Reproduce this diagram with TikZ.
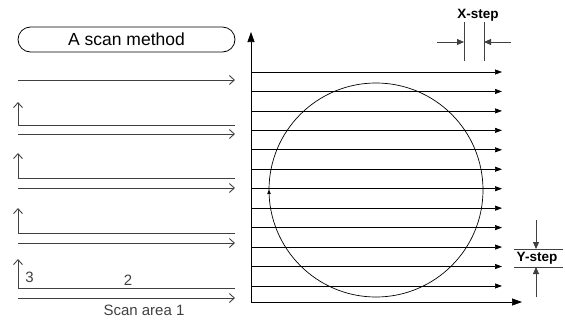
\documentclass[tikz,border=0pt]{standalone}
\usepackage{fontspec}
\setmainfont{Liberation Sans}
\usetikzlibrary{arrows.meta,shapes.misc,decorations.markings}
\definecolor{ink}{RGB}{0,0,0}
\definecolor{scangray}{RGB}{64,64,64}
\tikzset{
  namebox/.style={draw=ink, rounded rectangle, minimum width=217pt, minimum height=25pt,
    inner sep=0pt, font=\fontsize{17.5}{20}\selectfont, text=ink, line width=0.8pt},
  pass/.style={-{Straight Barb[length=5pt,width=9pt]}, line width=0.9pt, draw=scangray},
  back/.style={line width=0.9pt, draw=scangray},
  rise/.style={-{Straight Barb[length=5pt,width=9pt]}, line width=0.9pt, draw=scangray},
  raster/.style={-{Triangle[length=7pt,width=5pt]}, line width=0.7pt, draw=ink},
  axis/.style={-{Triangle[length=10pt,width=7pt]}, line width=0.7pt, draw=ink},
  stepline/.style={line width=0.8pt, draw=scangray},
  steparrow/.style={-{Triangle[length=7pt,width=6pt]}, line width=0.8pt, draw=scangray},
  plain/.style={font=\fontsize{15}{17}\selectfont, text=scangray, inner sep=0pt},
  steplabel/.style={font=\bfseries\fontsize{13.5}{15}\selectfont, text=ink, inner sep=0pt},
}
\begin{document}
\begin{tikzpicture}[x=1pt, y=-1pt]
  \useasboundingbox (0,0) rectangle (565,322);
  % left: scan method
  \node[namebox] (method) at (126.5,39.5) {A scan method};
  \foreach \y in {80,134,188,243,298}{
    \coordinate (ps) at (18,\y); \coordinate (pe) at (235,\y);
    \draw[pass] (ps) -- (pe);
  }
  \foreach \y/\t in {125/102,178/153,233/208,288/259}{
    \coordinate (bs) at (235,\y); \coordinate (bc) at (18,\y); \coordinate (bt) at (18,\t);
    \draw[back] (bs) -- (bc);
    \draw[rise] (bc) -- (bt);
  }
  \node[plain] (three) at (29.5,277) {3};
  \node[plain] (two) at (128,280) {2};
  \node[plain] (area) at (144,310) {Scan area 1};
  % right: raster over the circle
  \coordinate (O) at (251,302);
  \coordinate (ytop) at (251,32);
  \coordinate (xend) at (522,302);
  \draw[axis] (O) -- (ytop);
  \draw[axis] (O) -- (xend);
  \foreach \k in {0,...,11}{
    \pgfmathsetmacro\ly{72+19.45*\k}
    \coordinate (ls) at (251,\ly); \coordinate (le) at (502,\ly);
    \draw[raster] (ls) -- (le);
  }
  \coordinate (c) at (376,190);
  \draw[line width=0.7pt, draw=ink, postaction={decorate},
    decoration={markings, mark=at position 0.5 with {\arrow{Triangle[length=4pt,width=3.5pt]}}}]
    (c) circle[radius=107];
  % X-step
  \node[steplabel] (xstep) at (478,15) {X-step};
  \coordinate (xa1) at (464,22); \coordinate (xa2) at (464,61);
  \coordinate (xb1) at (484,22); \coordinate (xb2) at (484,61);
  \draw[stepline] (xa1) -- (xa2);
  \draw[stepline] (xb1) -- (xb2);
  \coordinate (xl) at (437,42); \coordinate (xr) at (511,42);
  \coordinate (xat) at (464,42); \coordinate (xbt) at (484,42);
  \draw[steparrow] (xl) -- (xat);
  \draw[steparrow] (xr) -- (xbt);
  % Y-step
  \coordinate (ya1) at (514,249); \coordinate (ya2) at (563,249);
  \coordinate (yb1) at (514,267); \coordinate (yb2) at (563,267);
  \draw[stepline] (ya1) -- (ya2);
  \draw[stepline] (yb1) -- (yb2);
  \node[steplabel] (ystep) at (537,258) {Y-step};
  \coordinate (yt) at (536,220); \coordinate (yb) at (536,297);
  \coordinate (yat) at (536,249); \coordinate (ybt) at (536,267);
  \draw[steparrow] (yt) -- (yat);
  \draw[steparrow] (yb) -- (ybt);
\end{tikzpicture}
\end{document}
